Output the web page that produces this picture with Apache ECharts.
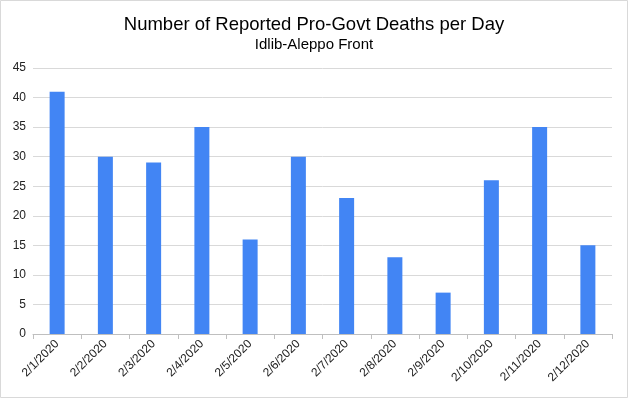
<!DOCTYPE html>
<html>
<head>
<meta charset="UTF-8">
<title>chart</title>
<script src="https://cdn.jsdelivr.net/npm/echarts@6/dist/echarts.min.js"></script>
</head>
<body style="margin:0;background:#fff;">
<div id="chart" style="width:628px;height:398px;"></div>
<script>
var days = ["2/1/2020", "2/2/2020", "2/3/2020", "2/4/2020", "2/5/2020", "2/6/2020", "2/7/2020", "2/8/2020", "2/9/2020", "2/10/2020", "2/11/2020", "2/12/2020"];
var deaths = [41, 30, 29, 35, 16, 30, 23, 13, 7, 26, 35, 15];

var myChart = echarts.init(document.getElementById("chart"), null, {renderer: 'canvas'});
var font = "'Liberation Sans', Arial, sans-serif";
myChart.setOption({
    backgroundColor: '#ffffff',
    animation: false,
    title: {
        text: 'Number of Reported Pro-Govt Deaths per Day',
        subtext: 'Idlib-Aleppo Front',
        left: 'center',
        top: 10,
        itemGap: 3,
        textStyle: {fontFamily: font, fontSize: 18.5, fontWeight: 'normal', color: '#000'},
        subtextStyle: {fontFamily: font, fontSize: 15, color: '#000'}
    },
    graphic: [{
        type: 'rect',
        shape: {x: 0.5, y: 0.5, width: 627, height: 397},
        style: {fill: 'none', stroke: '#d9d9d9', lineWidth: 1},
        silent: true
    }],
    grid: {left: 33, right: 16, top: 68, bottom: 64, containLabel: false},
    xAxis: {
        type: 'category',
        data: days,
        axisLine: {lineStyle: {color: '#bfbfbf'}},
        axisTick: {show: true, length: 5, lineStyle: {color: '#bfbfbf'}},
        axisLabel: {rotate: 45, fontFamily: font, fontSize: 12, color: '#222', margin: 8, interval: 0}
    },
    yAxis: {
        type: 'value',
        min: 0, max: 45, interval: 5,
        axisLine: {show: false},
        axisTick: {show: false},
        splitLine: {lineStyle: {color: '#d9d9d9'}},
        axisLabel: {fontFamily: font, fontSize: 12, color: '#222', margin: 7}
    },
    series: [{
        type: 'bar',
        data: deaths,
        barWidth: 15,
        itemStyle: {color: '#4285f4'}
    }]
});
</script>
</body>
</html>
